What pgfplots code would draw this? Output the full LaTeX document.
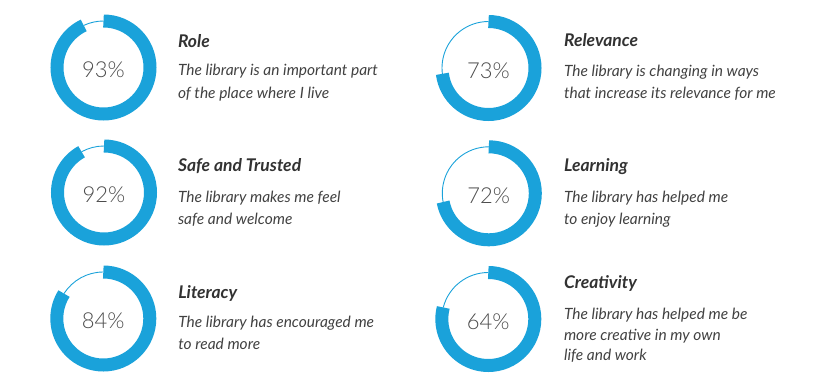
\documentclass[border=0pt]{standalone}
\usepackage{fontspec}
\setmainfont{Lato}
\newfontfamily\pctfamily{Lato Light}
\usepackage{pgfplots}
\usepackage{pgfplotstable}
\pgfplotsset{compat=1.18}
\definecolor{ringblue}{RGB}{26,162,218}
\definecolor{titlegray}{RGB}{50,50,50}
\definecolor{descgray}{RGB}{65,65,65}
\definecolor{pctgray}{RGB}{75,75,75}

% arc = share of the ring that is drawn thick, pct = printed label
\pgfplotstableread{
name        cx     cy     arc  pct
Role        103.5  67.5   93   93
Relevance   488.5  68.0   73   73
Safe        104.0  192.5  92   92
Learning    488.8  193.3  72   72
Literacy    103.3  318.5  84   84
Creativity  488.3  319.0  79   64
}\donuts

\newcommand\getval[3]{\pgfplotstablegetelem{#1}{#2}\of\donuts\expandafter\xdef\csname #3\endcsname{\pgfplotsretval}}
\foreach \i in {0,...,5}{%
  \getval{\i}{cx}{cx\i}\getval{\i}{cy}{cy\i}\getval{\i}{arc}{arc\i}\getval{\i}{pct}{pct\i}%
}

\newcommand\pctfont{\pctfamily\fontsize{22}{26}\selectfont}
\newcommand\donut[1]{%
  \pgfmathsetmacro\endang{90-3.6*\csname arc#1\endcsname}%
  \pgfmathsetmacro\pcy{\csname cy#1\endcsname+10.3}%
  \edef\tmp{%
  \noexpand\draw[ringblue, line width=13pt] (axis cs:\csname cx#1\endcsname,\csname cy#1\endcsname) ++(90:46.5pt)
     arc[start angle=90, end angle=\endang, radius=46.5pt];
  \noexpand\draw[ringblue, line width=0.9pt] (axis cs:\csname cx#1\endcsname,\csname cy#1\endcsname) ++(\endang:46.5pt)
     arc[start angle=\endang, end angle=-270, radius=46.5pt];
  \noexpand\node[anchor=base, text=pctgray, font=\noexpand\pctfont] at (axis cs:\csname cx#1\endcsname,\pcy) {\csname pct#1\endcsname\noexpand\%};
  }\tmp
}

\newcommand\tfont{\fontsize{17.5}{20}\selectfont\bfseries\itshape}
\newcommand\dfont{\fontsize{15.5}{18}\selectfont\itshape}

\begin{document}
\begin{tikzpicture}
\begin{axis}[
  scale only axis, width=826pt, height=387pt,
  xmin=0, xmax=826, ymin=0, ymax=387, y dir=reverse,
  enlargelimits=false, hide axis, clip=false]
\path (axis cs:0,0) rectangle (axis cs:826,387);
\donut{0}\donut{1}\donut{2}\donut{3}\donut{4}\donut{5}
% Role
\node[anchor=base west, text=titlegray, font=\tfont] at (axis cs:174.5,47.3) {Role};
\node[anchor=base west, text=descgray, font=\dfont] at (axis cs:174.5,76) {The library is an important part};
\node[anchor=base west, text=descgray, font=\dfont] at (axis cs:174.5,98.3) {of the place where I live};
% Relevance
\node[anchor=base west, text=titlegray, font=\tfont] at (axis cs:560.5,46.7) {Relevance};
\node[anchor=base west, text=descgray, font=\dfont] at (axis cs:560.5,76.7) {The library is changing in ways};
\node[anchor=base west, text=descgray, font=\dfont] at (axis cs:560.5,99) {that increase its relevance for me};
% Safe
\node[anchor=base west, text=titlegray, font=\tfont] at (axis cs:174.5,171.7) {Safe and Trusted};
\node[anchor=base west, text=descgray, font=\dfont] at (axis cs:174.5,202.3) {The library makes me feel};
\node[anchor=base west, text=descgray, font=\dfont] at (axis cs:174.5,224.3) {safe and welcome};
% Learning
\node[anchor=base west, text=titlegray, font=\tfont] at (axis cs:560.5,171.7) {Learning};
\node[anchor=base west, text=descgray, font=\dfont] at (axis cs:560.5,202.3) {The library has helped me};
\node[anchor=base west, text=descgray, font=\dfont] at (axis cs:560.5,224.3) {to enjoy learning};
% Literacy
\node[anchor=base west, text=titlegray, font=\tfont] at (axis cs:174.8,298.3) {Literacy};
\node[anchor=base west, text=descgray, font=\dfont] at (axis cs:174.8,327.7) {The library has encouraged me};
\node[anchor=base west, text=descgray, font=\dfont] at (axis cs:174.8,349.3) {to read more};
% Creativity
\node[anchor=base west, text=titlegray, font=\tfont] at (axis cs:560.5,288.3) {Creativity};
\node[anchor=base west, text=descgray, font=\dfont] at (axis cs:560.5,319) {The library has helped me be};
\node[anchor=base west, text=descgray, font=\dfont] at (axis cs:560.5,340) {more creative in my own};
\node[anchor=base west, text=descgray, font=\dfont] at (axis cs:560.5,360) {life and work};
\end{axis}
\end{tikzpicture}
\end{document}
